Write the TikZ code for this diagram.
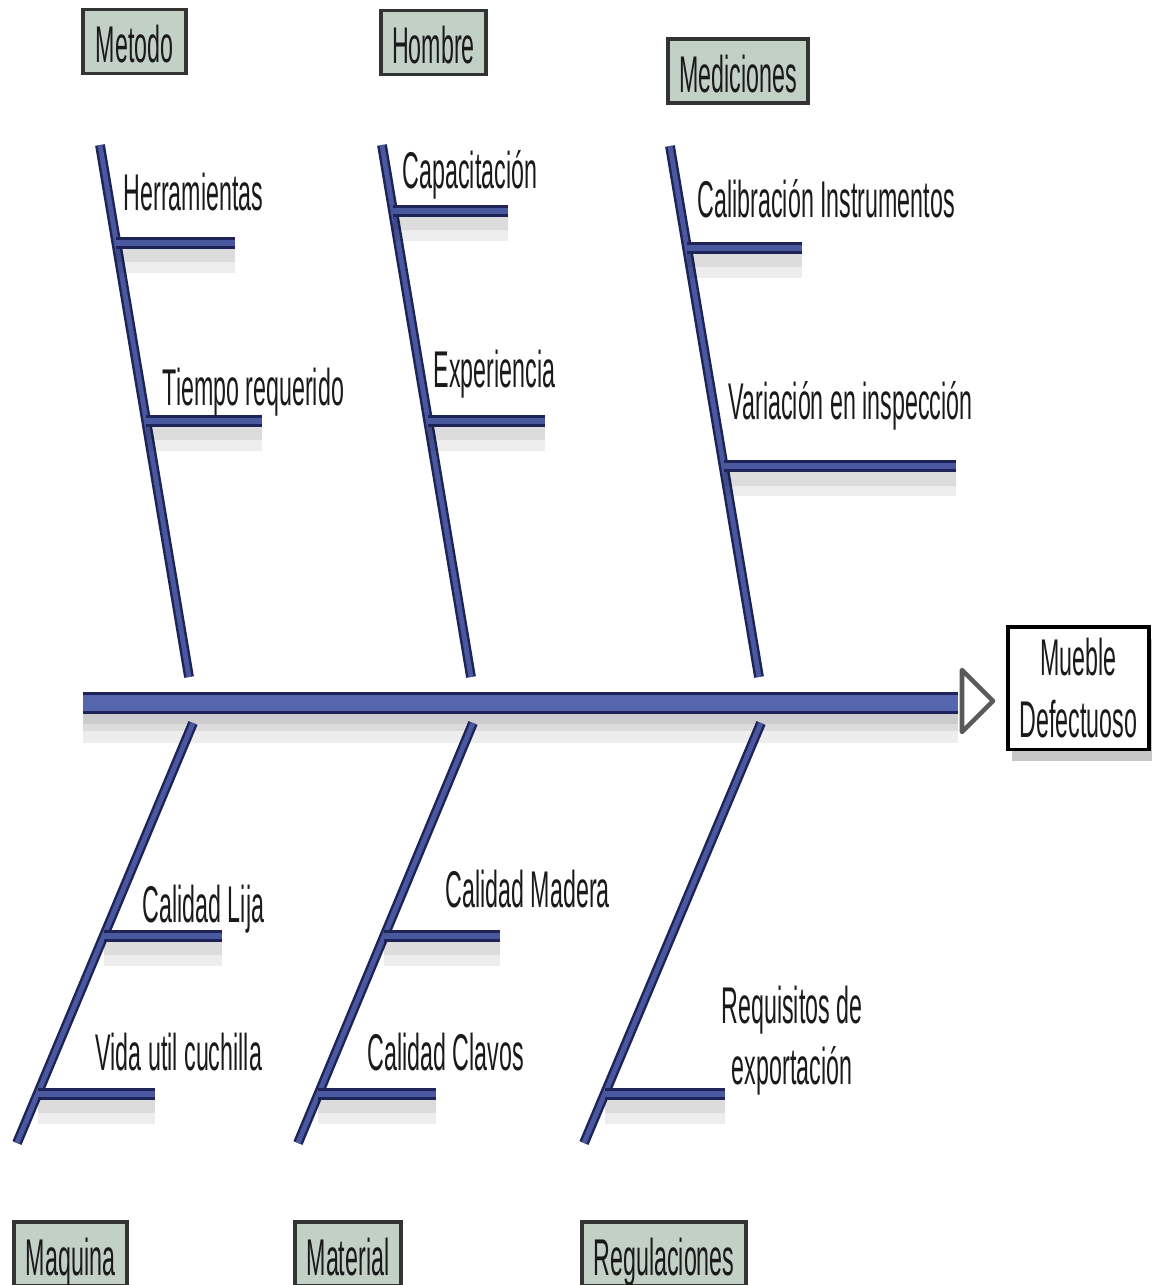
\documentclass[tikz,border=0pt]{standalone}
\usepackage{fontspec}
\newfontfamily\fishfont{Liberation Sans}[FakeStretch=0.45]
\usetikzlibrary{calc, shadows}
\definecolor{azulhueso}{HTML}{4A58A0}
\definecolor{azulclaro}{HTML}{5565AE}
\definecolor{azulborde}{HTML}{1E2457}
\definecolor{verdecaja}{HTML}{C2D0C6}
\definecolor{textogris}{HTML}{1A1A1A}
\newcommand{\letra}{\fishfont\fontsize{14.7pt}{17.4pt}\selectfont}
\tikzset{
	espina/.style={draw=azulborde, line width=1.1pt, double=azulclaro, double distance=4.3pt}, % Linea central
	hueso/.style={draw=azulborde, line width=0.7pt, double=azulhueso, double distance=1.4pt}, % Huesos de cada categoria
	rama/.style={draw=azulborde, line width=0.9pt, double=azulhueso, double distance=1.7pt}, % Causas secundarias
	sombra/.style n args={2}{draw=black, opacity=0.07, line width=#1, transform canvas={yshift=#2}}, % Sombra bajo las lineas
	categoria/.style={draw=black!80, line width=0.9pt, fill=verdecaja, font=\letra, text=textogris, inner xsep=1.1mm, inner ysep=1pt, text height=13pt, text depth=1pt, minimum height=6.4mm}, % Cajas de categoria
	etiqueta/.style={font=\letra, text=textogris, inner sep=0pt, anchor=base west}, % Texto de las causas
	efecto/.style={draw=black, line width=1pt, fill=white, font=\letra, text=textogris, align=center, minimum width=14.1mm, minimum height=12mm, drop shadow={shadow xshift=0.4mm, shadow yshift=-1.2mm, opacity=0.45}}, % Caja del efecto
	punta/.style={draw=black!65, fill=white, line width=1.3pt, line join=round} % Punta de la flecha
}

\begin{document}
\begin{tikzpicture}[x=0.1mm, y=-0.1mm]
	\useasboundingbox (0,0) rectangle (1152,1285);
	% categorias
	\node[categoria, minimum width=10.3mm] (metodo) at (134.5,41.5) {Metodo};
	\node[categoria, minimum width=10.5mm] (hombre) at (433.5,42.5) {Hombre};
	\node[categoria, minimum width=14mm] (mediciones) at (738,71) {Mediciones};
	\node[categoria, minimum width=11.3mm] (maquina) at (70.5,1254) {Maquina};
	\node[categoria, minimum width=10.6mm] (material) at (348,1254) {Material};
	\node[categoria, minimum width=16.4mm] (regulaciones) at (664,1254) {Regulaciones};
	\node[efecto] (mueble) at (1078.5,688) {Mueble\\Defectuoso};
	% espina y huesos
	\coordinate (cola) at (83,703);
	\coordinate (cabeza) at (958,703);
	\coordinate (m1) at (100,145); \coordinate (m2) at (189,677);
	\coordinate (h1) at (382,145); \coordinate (h2) at (471,677);
	\coordinate (d1) at (670,146); \coordinate (d2) at (759,677);
	\coordinate (q1) at (193,723); \coordinate (q2) at (17,1143);
	\coordinate (t1) at (473,723); \coordinate (t2) at (298,1143);
	\coordinate (r1) at (761,723); \coordinate (r2) at (584,1143);
	\draw[sombra={13pt}{-5pt}] (cola) -- (cabeza);
	\draw[sombra={8pt}{-4pt}] (cola) -- (cabeza);
	\draw[sombra={4pt}{-4pt}] (cola) -- (cabeza);
	\draw[espina] (cola) -- (cabeza);
	\draw[punta] (962,670) -- (993,701) -- (962,732) -- cycle;
	\foreach \b in {m,h,d,q,t,r}
		\draw[hueso] (\b1) -- (\b2);
	% ramas
	\foreach \b/\t/\l [count=\i] in {m/0.184/119, m/0.519/116, h/0.124/115, h/0.519/117, d/0.192/115, d/0.603/232, q/0.507/118, q/0.883/117, t/0.507/116, t/0.883/118, r/0.883/120}{
		\draw[sombra={9pt}{-4pt}] ($(\b1)!\t!(\b2)$) -- ++(\l,0);
		\draw[sombra={5pt}{-3pt}] ($(\b1)!\t!(\b2)$) -- ++(\l,0);
		\draw[rama] ($(\b1)!\t!(\b2)$) coordinate (rama\i) -- ++(\l,0);
	}
	% causas
	\node[etiqueta] (herr) at (123,210) {Herramientas};
	\node[etiqueta] (tiem) at (162,405) {Tiempo requerido};
	\node[etiqueta] (capa) at (402,188) {Capacitación};
	\node[etiqueta] (expe) at (433,387) {Experiencia};
	\node[etiqueta] (cali) at (697,217) {Calibración Instrumentos};
	\node[etiqueta] (vari) at (728,419) {Variación en inspección};
	\node[etiqueta] (lija) at (142,922) {Calidad Lija};
	\node[etiqueta] (vida) at (95,1070) {Vida util cuchilla};
	\node[etiqueta] (made) at (445,907) {Calidad Madera};
	\node[etiqueta] (clav) at (367,1070) {Calidad Clavos};
	\node[etiqueta, anchor=center, align=center] (requ) at (792,1041) {Requisitos de\\exportación};
\end{tikzpicture}
\end{document}
